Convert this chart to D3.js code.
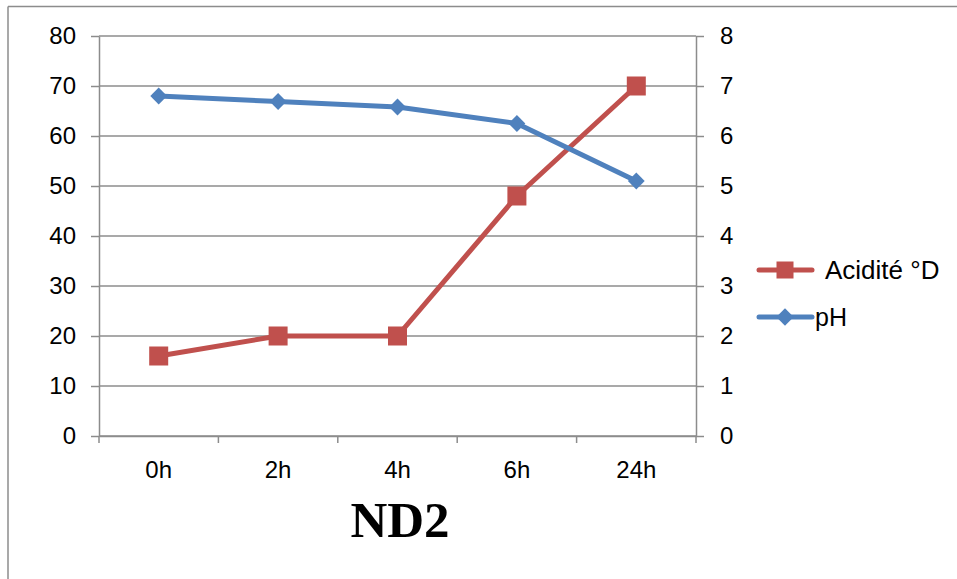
<!DOCTYPE html>
<html>
<head>
<meta charset="utf-8">
<script src="https://cdn.jsdelivr.net/npm/d3@7/dist/d3.min.js"></script>
<style>
  html, body { margin: 0; padding: 0; background: #fff; }
  svg { display: block; }
</style>
</head>
<body>
<script>
// Sampling times and measurements
const categories = ["0h", "2h", "4h", "6h", "24h"];
const acidite = [16, 20, 20, 48, 70];          // Acidité °D (left axis)
const ph = [6.8, 6.69, 6.58, 6.25, 5.1];        // pH (right axis)
const leftTicks = [0, 10, 20, 30, 40, 50, 60, 70, 80];
const rightTicks = [0, 1, 2, 3, 4, 5, 6, 7, 8];

const W = 957, H = 579;
const plot = { left: 99, right: 696, top: 36, bottom: 436 };
const red = "#c0504d", blue = "#4f81bd", grid = "#8c8c8c";
const font = "'Liberation Sans', Arial, sans-serif";

const svg = d3.select("body").append("svg").attr("width", W).attr("height", H);

// Outer frame (top and left edges visible)
svg.append("line").attr("x1", 8).attr("x2", W).attr("y1", 6.5).attr("y2", 6.5)
  .attr("stroke", grid).attr("stroke-width", 1.5);
svg.append("line").attr("x1", 8).attr("x2", 8).attr("y1", 6.5).attr("y2", H)
  .attr("stroke", grid).attr("stroke-width", 1.5);

const x = d3.scaleBand().domain(categories).range([plot.left, plot.right]);
const yL = d3.scaleLinear().domain([0, 80]).range([plot.bottom, plot.top]);
const yR = d3.scaleLinear().domain([0, 8]).range([plot.bottom, plot.top]);

// Horizontal gridlines
svg.append("g").selectAll("line").data(leftTicks).join("line")
  .attr("x1", plot.left).attr("x2", plot.right)
  .attr("y1", d => yL(d)).attr("y2", d => yL(d))
  .attr("stroke", grid).attr("stroke-width", 1.5);

// Left axis
const gL = svg.append("g").attr("transform", `translate(${plot.left},0)`)
  .call(d3.axisLeft(yL).tickValues(leftTicks).tickSize(8).tickPadding(15).tickSizeOuter(0));
// Right axis
const gR = svg.append("g").attr("transform", `translate(${plot.right},0)`)
  .call(d3.axisRight(yR).tickValues(rightTicks).tickSize(8).tickPadding(16).tickSizeOuter(0));
// Bottom axis with ticks at category boundaries
const gB = svg.append("g").attr("transform", `translate(0,${plot.bottom})`)
  .call(d3.axisBottom(x).tickSize(0).tickPadding(25).tickSizeOuter(0));
gB.selectAll(".bnd").data(d3.range(categories.length + 1)).join("line")
  .attr("class", "bnd")
  .attr("x1", i => plot.left + i * x.step()).attr("x2", i => plot.left + i * x.step())
  .attr("y1", 0).attr("y2", 7)
  .attr("stroke", grid).attr("stroke-width", 1.5);

[gL, gR, gB].forEach(g => {
  g.select(".domain").attr("stroke", grid).attr("stroke-width", 1.5);
  g.selectAll(".tick line").attr("stroke", grid).attr("stroke-width", 1.5);
  g.selectAll("text").attr("font-family", font).attr("font-size", 24).attr("fill", "#000");
});

const cx = d => x(d) + x.bandwidth() / 2;

// Acidité line and square markers
svg.append("path").datum(acidite)
  .attr("fill", "none").attr("stroke", red).attr("stroke-width", 5)
  .attr("stroke-linejoin", "round")
  .attr("d", d3.line().x((d, i) => cx(categories[i])).y(d => yL(d)));
svg.append("g").selectAll("rect").data(acidite).join("rect")
  .attr("x", (d, i) => cx(categories[i]) - 9.5).attr("y", d => yL(d) - 9.5)
  .attr("width", 19).attr("height", 19).attr("fill", red);

// pH line and diamond markers
svg.append("path").datum(ph)
  .attr("fill", "none").attr("stroke", blue).attr("stroke-width", 5)
  .attr("stroke-linejoin", "round")
  .attr("d", d3.line().x((d, i) => cx(categories[i])).y(d => yR(d)));
const diamond = d3.symbol().type(d3.symbolDiamond2).size(180);
svg.append("g").selectAll("path").data(ph).join("path")
  .attr("transform", (d, i) => `translate(${cx(categories[i])},${yR(d)})`)
  .attr("d", diamond).attr("fill", blue);

// Legend
const legend = [
  { name: "Acidité °D", color: red, shape: "square", y: 270, tx: 825, size: 26 },
  { name: "pH", color: blue, shape: "diamond", y: 317, tx: 815, size: 25 }
];
const lg = svg.append("g");
legend.forEach(l => {
  lg.append("line").attr("x1", 759).attr("x2", 812).attr("y1", l.y).attr("y2", l.y)
    .attr("stroke", l.color).attr("stroke-width", 5).attr("stroke-linecap", "round");
  if (l.shape === "square") {
    lg.append("rect").attr("x", 776.5).attr("y", l.y - 8.5).attr("width", 17).attr("height", 17).attr("fill", l.color);
  } else {
    lg.append("path").attr("transform", `translate(785,${l.y})`)
      .attr("d", d3.symbol().type(d3.symbolDiamond2).size(190)).attr("fill", l.color);
  }
  lg.append("text").attr("x", l.tx).attr("y", l.y).attr("dy", "0.35em")
    .attr("font-family", font).attr("font-size", l.size).text(l.name);
});

// Title
svg.append("text").attr("x", 400).attr("y", 537).attr("text-anchor", "middle")
  .attr("font-family", "'Liberation Serif', 'Times New Roman', serif")
  .attr("font-weight", "bold").attr("font-size", 51).text("ND2");
</script>
</body>
</html>
